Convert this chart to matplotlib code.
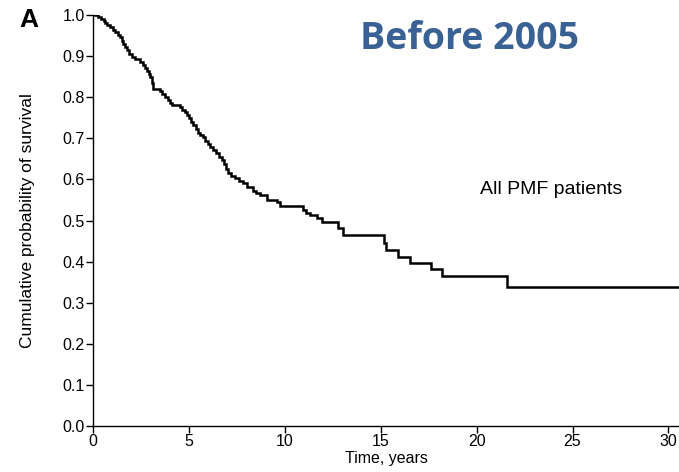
import matplotlib
matplotlib.use("Agg")
import matplotlib.pyplot as plt

plt.rcParams['font.family'] = ['Liberation Sans', 'DejaVu Sans']

# Kaplan-Meier step data (years, survival)
times = [0.0, 0.26, 0.40, 0.55, 0.63, 0.75, 0.88, 1.04, 1.15, 1.28, 1.41, 1.50,
         1.58, 1.67, 1.78, 1.90, 2.03, 2.20, 2.45, 2.58, 2.71, 2.82, 2.90, 2.97,
         3.05, 3.13, 3.49, 3.62, 3.75, 3.90, 4.00, 4.11, 4.53, 4.65, 4.78, 4.90,
         5.00, 5.10, 5.21, 5.35, 5.48, 5.60, 5.73, 5.86, 6.00, 6.12, 6.25, 6.40,
         6.56, 6.72, 6.82, 6.92, 7.03, 7.20, 7.40, 7.60, 7.81, 8.02, 8.33, 8.50,
         8.70, 9.06, 9.58, 9.74, 10.94, 11.10, 11.30, 11.67, 11.93, 12.76, 13.02,
         15.15, 15.30, 15.90, 16.50, 17.60, 18.20, 21.60, 30.80]
surv = [1.000, 0.996, 0.990, 0.985, 0.980, 0.975, 0.970, 0.964, 0.958, 0.952,
        0.946, 0.938, 0.930, 0.922, 0.914, 0.906, 0.898, 0.892, 0.886, 0.879,
        0.871, 0.864, 0.857, 0.849, 0.835, 0.820, 0.815, 0.808, 0.800, 0.794,
        0.787, 0.781, 0.776, 0.769, 0.763, 0.757, 0.749, 0.741, 0.732, 0.722,
        0.713, 0.708, 0.703, 0.694, 0.686, 0.680, 0.672, 0.664, 0.655, 0.647,
        0.637, 0.626, 0.616, 0.609, 0.603, 0.597, 0.591, 0.582, 0.572, 0.567,
        0.562, 0.550, 0.545, 0.535, 0.526, 0.519, 0.513, 0.506, 0.496, 0.482,
        0.466, 0.445, 0.428, 0.411, 0.397, 0.381, 0.365, 0.338, 0.338]

xticks = [0, 5, 10, 15, 20, 25, 30]
yticks = [0.0, 0.1, 0.2, 0.3, 0.4, 0.5, 0.6, 0.7, 0.8, 0.9, 1.0]

fig = plt.figure(figsize=(6.79, 4.72), dpi=100)
ax = fig.add_axes([0.137, 0.0975, 0.863, 0.8705])
ax.step(times, surv, where='post', color='black', lw=1.8, solid_joinstyle='miter')

ax.set_xlim(0, 30.55)
ax.set_ylim(0, 1.0)
ax.set_xticks(xticks)
ax.set_yticks(yticks)
ax.set_yticklabels([f"{v:.1f}" for v in yticks])
for s in ['top', 'right']:
    ax.spines[s].set_visible(False)
for s in ['left', 'bottom']:
    ax.spines[s].set_linewidth(1.0)
    ax.spines[s].set_clip_on(False)
ax.tick_params(direction='out', length=5, width=1.0, labelsize=11.5, pad=1)
ax.set_xlabel("Time, years", fontsize=11.5, labelpad=1)
ax.set_ylabel("Cumulative probability of survival", fontsize=12.5, labelpad=20)

fig.text(0.028, 0.957, "A", fontsize=19, fontweight='bold', ha='left', va='center')
fig.text(0.691, 0.918, "Before 2005", fontsize=27, fontweight='bold',
         color='#3a6194', ha='center', va='center', family=['Open Sans', 'DejaVu Sans'])
ax.text(23.9, 0.576, "All PMF patients", fontsize=14, ha='center', va='center')

fig.savefig("out.png", dpi=100)
